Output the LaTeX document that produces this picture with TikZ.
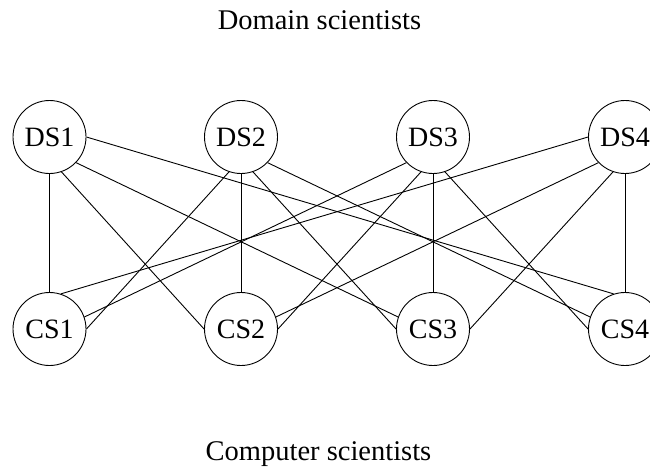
\documentclass[tikz,border=0pt]{standalone}
\usepackage{fontspec}
\setmainfont{Liberation Serif}
\begin{document}
\begin{tikzpicture}[x=1pt,y=-1pt,
  vert/.style={draw,circle,minimum size=73pt,inner sep=0pt,line width=0.9pt,font=\fontsize{28}{32}\selectfont},
  edge/.style={line width=0.9pt},
  title/.style={font=\fontsize{28.5}{32}\selectfont,anchor=base}]
\useasboundingbox (0,0) rectangle (650,466);
\node[title] (top) at (319.5,29.5) {Domain scientists};
\node[title] (bot) at (318.5,460.5) {Computer scientists};
\foreach \i/\x in {1/49.5,2/241,3/433,4/625}{
  \node[vert] (DS\i) at (\x,137) {DS\i};
  \node[vert] (CS\i) at (\x,329) {CS\i};
}
% DS1
\draw[edge] (DS1.-90) -- (CS1.90);
\draw[edge] (DS1.-71) -- (CS2.180);
\draw[edge] (DS1.-44) -- (CS3.161);
\draw[edge] (DS1.0) -- (CS4.108);
% DS2
\draw[edge] (DS2.-109) -- (CS1.0);
\draw[edge] (DS2.-90) -- (CS2.90);
\draw[edge] (DS2.-71) -- (CS3.180);
\draw[edge] (DS2.-44) -- (CS4.161);
% DS3
\draw[edge] (DS3.-136) -- (CS1.19);
\draw[edge] (DS3.-109) -- (CS2.0);
\draw[edge] (DS3.-90) -- (CS3.90);
\draw[edge] (DS3.-71) -- (CS4.180);
% DS4
\draw[edge] (DS4.180) -- (CS1.72);
\draw[edge] (DS4.-136) -- (CS2.19);
\draw[edge] (DS4.-109) -- (CS3.0);
\draw[edge] (DS4.-90) -- (CS4.90);
\end{tikzpicture}
\end{document}
